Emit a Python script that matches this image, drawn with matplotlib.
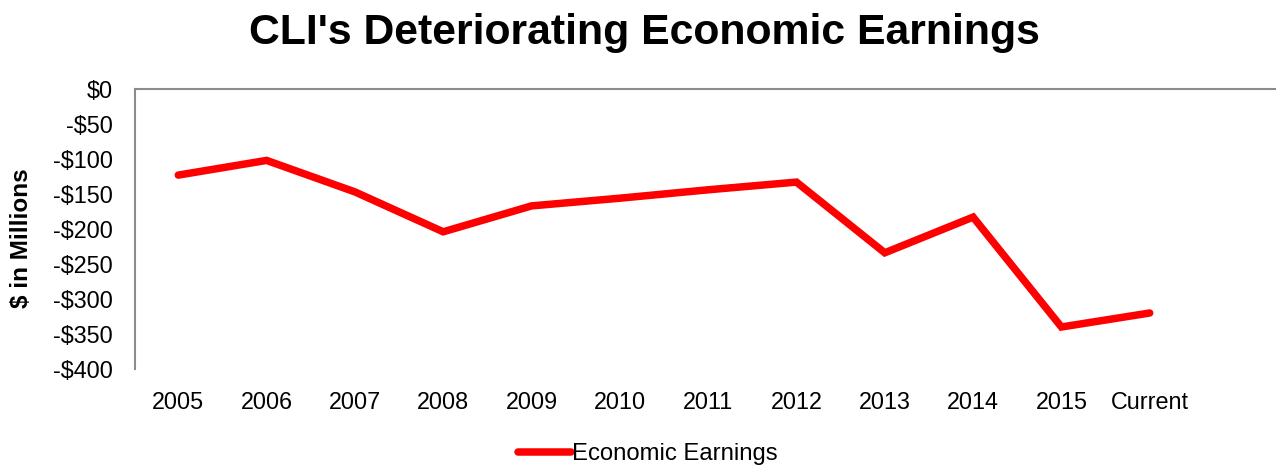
import matplotlib as mpl
mpl.use('Agg')
import matplotlib.pyplot as plt

years = ['2005', '2006', '2007', '2008', '2009', '2010', '2011', '2012',
         '2013', '2014', '2015', 'Current']
econ_earnings = [-123, -102, -147, -204, -167, -156, -144, -133,
                 -234, -183, -340, -320]
y_ticks = [0, -50, -100, -150, -200, -250, -300, -350, -400]
y_labels = ['$0' if v == 0 else '-$%d' % abs(v) for v in y_ticks]

plt.rcParams['font.family'] = ['Liberation Sans', 'DejaVu Sans']

fig = plt.figure(figsize=(12.76, 4.65), dpi=100)
ax = fig.add_axes([135 / 1276, 1 - 369 / 465, 1 - 135 / 1276, 280 / 465])

x = list(range(len(years)))
ax.plot(x, econ_earnings, color='#ff0000', lw=5.4, solid_joinstyle='miter',
        solid_capstyle='round', label='Economic Earnings')

ax.set_ylim(-400, 0)
ax.set_xlim(-0.49, 12.43)
ax.set_yticks(y_ticks)
ax.set_yticklabels(y_labels)
ax.set_xticks(x)
ax.set_xticklabels(years)
ax.tick_params(axis='both', length=0, labelsize=16.8)
ax.tick_params(axis='y', pad=16)
ax.tick_params(axis='x', pad=16)

for s in ['right', 'bottom']:
    ax.spines[s].set_visible(False)
for s in ['left', 'top']:
    ax.spines[s].set_color('#8c8c8c')
    ax.spines[s].set_linewidth(1.5)

fig.text(22 / 1276, 1 - 238 / 465, '$ in Millions', rotation=90, fontsize=17.5,
         fontweight='bold', ha='center', va='center')
fig.text(644 / 1276, 1 - 33 / 465, "CLI's Deteriorating Economic Earnings",
         fontsize=30.8, fontweight='bold', ha='center', va='center')

fig.legend(loc='center', bbox_to_anchor=(648 / 1276, 1 - 454 / 465), frameon=False,
           fontsize=17.2, handlelength=2.2, handletextpad=0.05)

fig.savefig('out.png', dpi=100)
